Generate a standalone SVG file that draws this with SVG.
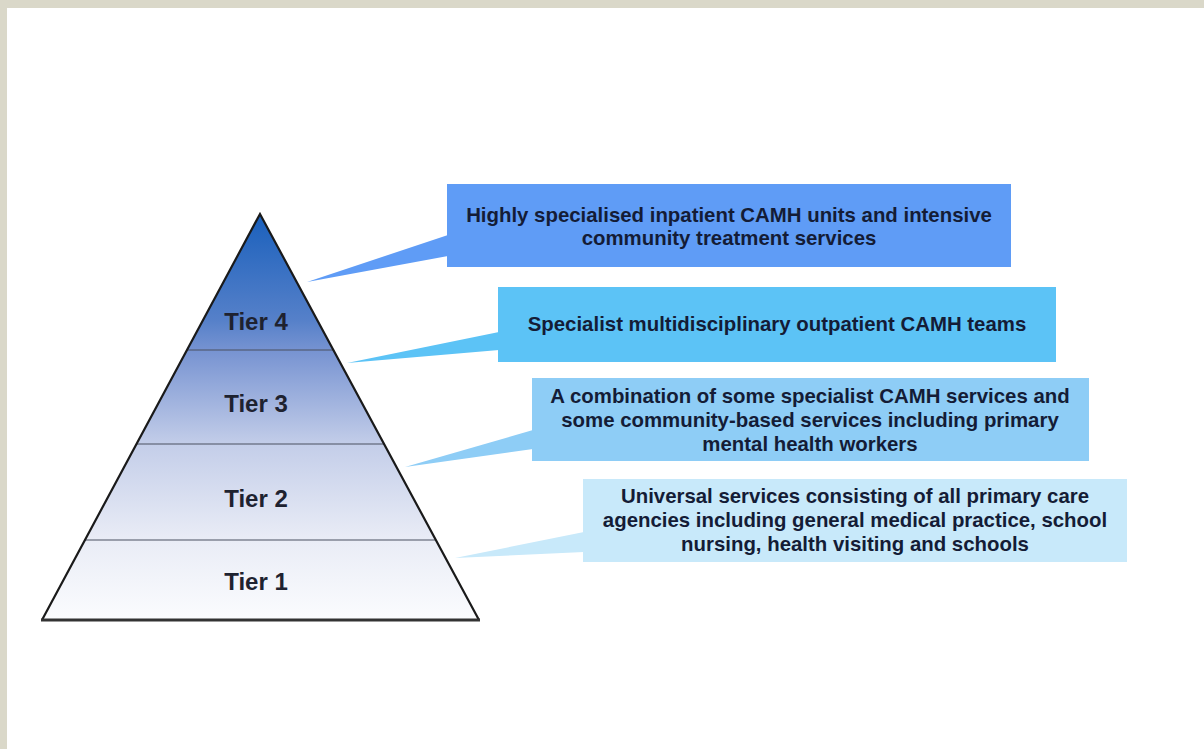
<svg xmlns="http://www.w3.org/2000/svg" width="1204" height="749" viewBox="0 0 1204 749">
  <style>
    .tier { font-family: "Liberation Sans", Arial, sans-serif; font-weight: bold; font-size: 24px; fill: #1e2230; text-anchor: middle; }
    .cap { font-family: "Liberation Sans", Arial, sans-serif; font-weight: bold; font-size: 20.4px; fill: #141c36; text-anchor: middle; }
    .div { stroke: #4a5060; stroke-width: 1.2; }
  </style>
  <defs>
    <linearGradient id="pyr" gradientUnits="userSpaceOnUse" x1="0" y1="214" x2="0" y2="620">
      <stop offset="0" stop-color="#1a60bc"/>
      <stop offset="0.26" stop-color="#5580c9"/>
      <stop offset="0.34" stop-color="#7894d2"/>
      <stop offset="0.57" stop-color="#c4cee9"/>
      <stop offset="0.8" stop-color="#e9ecf6"/>
      <stop offset="1" stop-color="#fbfcfe"/>
    </linearGradient>
  </defs>
  <rect width="1204" height="749" fill="#ffffff"/>
  <rect x="0" y="0" width="1204" height="8" fill="#dad8c9"/>
  <rect x="0" y="0" width="7" height="749" fill="#dad8c9"/>

  <g id="pyramid">
    <polygon points="260,214 42,620 479,620" fill="url(#pyr)"/>
    <line class="div" x1="187" y1="350" x2="333" y2="350"/>
    <line class="div" x1="136" y1="444" x2="384" y2="444"/>
    <line class="div" x1="85" y1="540" x2="436" y2="540"/>
    <polyline points="42,620 260,214 479,620" fill="none" stroke="#1a1a1a" stroke-width="2.2"/>
    <line x1="41" y1="620" x2="480" y2="620" stroke="#333" stroke-width="3"/>
  </g>

  <g id="tier4"><text class="tier" x="256" y="330">Tier 4</text></g>
  <g id="tier3"><text class="tier" x="256" y="412">Tier 3</text></g>
  <g id="tier2"><text class="tier" x="256" y="507">Tier 2</text></g>
  <g id="tier1"><text class="tier" x="256" y="590">Tier 1</text></g>

  <g id="connectors">
    <polygon points="448,235 448,256 307,282" fill="#5f9cf6"/>
    <polygon points="499,332 499,350 347,363" fill="#5cc3f6"/>
    <polygon points="533,430 533,449 405,467" fill="#8ecdf6"/>
    <polygon points="584,532 584,552 455,558" fill="#c8e9fa"/>
  </g>

  <g id="box4-callout">
    <rect x="447" y="184" width="564" height="83" fill="#5f9cf6"/>
    <text class="cap" x="729" y="222">Highly specialised inpatient CAMH units and intensive</text>
    <text class="cap" x="729" y="245">community treatment services</text>
  </g>
  <g id="box3-callout">
    <rect x="498" y="287" width="558" height="75" fill="#5cc3f6"/>
    <text class="cap" x="777" y="331">Specialist multidisciplinary outpatient CAMH teams</text>
  </g>
  <g id="box2-callout">
    <rect x="532" y="378" width="557" height="83" fill="#8ecdf6"/>
    <text class="cap" x="810" y="403">A combination of some specialist CAMH services and</text>
    <text class="cap" x="810" y="427">some community-based services including primary</text>
    <text class="cap" x="810" y="451">mental health workers</text>
  </g>
  <g id="box1-callout">
    <rect x="583" y="479" width="544" height="83" fill="#c8e9fa"/>
    <text class="cap" x="855" y="503">Universal services consisting of all primary care</text>
    <text class="cap" x="855" y="527">agencies including general medical practice, school</text>
    <text class="cap" x="855" y="551">nursing, health visiting and schools</text>
  </g>
</svg>
